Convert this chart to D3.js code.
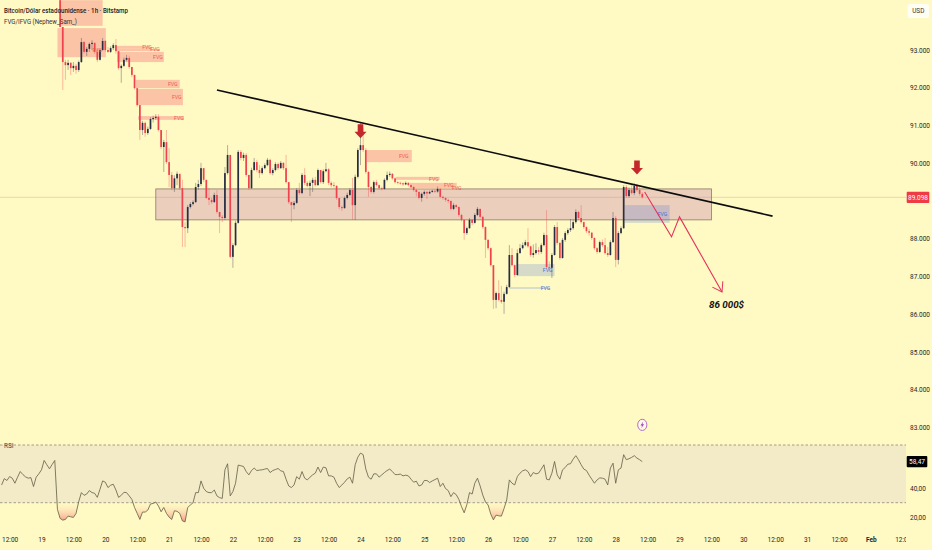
<!DOCTYPE html>
<html>

<head>
    <meta charset="utf-8">
    <title>BTC 1h</title>
    <style>
        html, body { margin: 0; padding: 0; background: #FFF9C4; }
        svg { display: block; }
        text { font-family: Roboto, "Liberation Sans", sans-serif; fill: #2e2e2a; }
        .axis text { font-size: 6.5px; fill: #26261f; }
        .fvg-label { font-size: 5.2px; }
    </style>
    <script src="https://d3js.org/d3.v7.min.js"></script>
</head>

<body>
    <svg width="932" height="550"></svg>

    <script>
        // hourly candles, first one is Jan 19 07:00, prices in thousands of USD
        const firstHour = 7;
        const firstOpen = 94.32;
        const closes = [93.61,92.68,92.60,92.66,92.52,92.58,92.47,92.68,93.21,92.95,93.03,93.16,93.19,92.95,92.74,93.00,93.24,93.00,92.95,93.05,93.13,92.97,92.52,92.58,92.74,92.79,92.55,92.34,91.99,91.54,90.88,91.07,90.80,90.91,91.17,91.20,91.23,90.88,90.43,90.56,90.03,89.69,89.34,89.60,89.72,89.34,88.31,88.28,88.84,88.92,88.97,89.37,89.45,89.87,89.56,89.08,89.03,88.97,89.16,88.71,88.58,88.55,89.74,90.22,87.52,87.83,88.42,90.30,90.14,90.22,89.69,89.34,89.82,90.03,89.82,89.74,89.87,89.95,90.09,89.74,89.82,89.98,89.87,90.01,89.87,89.50,88.97,88.89,88.95,89.29,89.21,89.69,89.48,89.40,89.48,89.56,89.42,89.82,89.50,89.79,89.84,89.48,89.42,89.40,89.08,88.84,88.81,89.08,89.16,89.29,88.89,89.64,90.35,90.48,90.35,89.77,89.37,89.24,89.50,89.42,89.34,89.32,89.56,89.69,89.72,89.60,89.50,89.48,89.47,89.44,89.48,89.42,89.37,89.29,89.24,89.08,89.19,89.24,89.20,89.24,89.27,89.25,89.32,89.11,89.08,89.03,89.00,88.79,88.89,88.84,88.63,88.50,88.15,88.28,88.50,88.42,88.63,88.79,88.58,88.31,87.97,87.75,87.30,86.38,86.56,86.38,86.33,86.54,86.72,87.57,87.30,87.04,87.62,87.75,87.83,87.91,87.80,87.57,87.62,87.70,87.65,87.83,88.10,87.25,87.23,87.57,88.31,87.89,87.49,87.97,88.15,88.23,88.28,88.44,88.71,88.55,88.44,88.31,88.20,88.16,88.02,87.75,87.65,87.91,87.83,87.62,87.57,87.91,88.55,87.44,88.15,88.28,89.37,89.13,89.29,89.21,89.40,89.29,89.19,89.098];
        const highs = [94.32,93.61,92.74,92.74,92.68,92.68,92.63,92.72,93.32,93.24,93.08,93.20,93.26,93.19,93.05,93.03,93.32,93.26,93.08,93.10,93.18,93.29,92.97,92.62,92.80,92.87,92.85,92.55,92.34,91.99,91.54,91.12,91.10,90.97,91.22,91.26,91.30,91.30,90.88,90.62,90.88,90.40,89.77,89.68,89.78,89.65,89.56,88.44,88.89,88.97,89.02,89.48,89.56,90.01,89.87,89.56,89.34,89.08,89.22,89.29,88.71,88.63,89.90,90.48,90.22,87.88,88.48,90.35,90.35,90.28,90.27,89.69,89.88,90.14,90.09,89.95,89.92,90.00,90.14,90.12,89.87,90.03,90.02,90.06,90.03,90.22,89.50,88.98,89.00,89.34,89.48,89.74,89.87,89.52,89.54,89.62,89.64,89.86,89.82,89.84,90.01,89.87,89.52,89.50,89.42,89.08,88.88,89.12,89.22,89.34,89.61,89.70,90.40,91.09,90.93,90.40,89.80,89.40,89.54,89.56,89.44,89.38,89.60,89.78,89.78,89.74,89.62,89.52,89.51,89.49,89.52,89.50,89.44,89.39,89.32,89.26,89.22,89.28,89.27,89.28,89.30,89.31,89.38,89.34,89.14,89.10,89.06,89.02,88.94,88.92,88.86,88.66,88.52,88.32,88.55,88.52,88.68,88.84,88.80,88.60,88.33,87.99,87.77,87.30,86.60,86.90,86.75,86.60,86.78,87.83,87.75,87.32,87.72,87.86,87.90,87.97,88.28,87.82,87.85,87.88,87.78,87.88,88.16,88.76,87.40,87.62,88.36,88.44,87.91,88.02,88.20,88.28,88.52,88.50,88.78,88.74,88.89,88.46,88.33,88.26,88.18,88.04,87.78,87.95,87.98,88.02,87.78,87.96,88.71,88.60,88.20,88.33,89.42,89.42,89.36,89.42,89.47,89.45,89.37,89.23];
        const lows = [93.61,91.94,92.21,92.47,92.34,92.42,92.37,92.42,92.66,92.90,92.84,92.95,93.00,92.90,92.68,92.72,92.98,92.95,92.92,92.92,93.00,92.90,92.47,92.13,92.55,92.70,92.50,92.28,91.95,91.50,90.62,90.75,90.70,90.75,90.88,91.08,91.15,90.84,90.38,89.77,89.98,89.37,89.29,89.24,89.42,89.29,87.78,87.78,88.15,88.80,88.88,88.95,89.30,89.40,89.50,89.05,88.89,88.92,88.95,88.66,88.15,88.44,88.50,89.70,87.48,87.23,87.80,88.40,90.08,90.06,89.64,89.29,89.32,89.80,89.76,89.61,89.70,89.84,89.92,89.70,89.68,89.78,89.82,89.85,89.82,89.46,88.92,88.44,88.78,88.92,89.16,89.18,89.42,89.36,89.13,89.24,89.38,89.40,89.46,89.45,89.76,89.42,89.36,89.35,89.03,88.78,88.74,88.80,89.04,89.13,88.50,88.50,89.60,89.95,90.30,89.72,89.11,89.20,89.20,89.38,89.30,89.28,89.30,89.52,89.64,89.56,89.46,89.44,89.43,89.40,89.42,89.38,89.33,89.25,89.12,89.04,88.98,89.14,89.05,89.18,89.22,89.21,89.22,89.07,89.03,88.98,88.94,88.75,88.76,88.80,88.58,88.46,87.97,88.10,88.26,88.36,88.40,88.60,88.54,88.26,87.49,87.70,87.26,86.14,86.16,86.34,86.28,86.01,86.52,86.70,87.26,86.98,87.02,87.60,87.72,87.80,87.76,87.52,87.50,87.58,87.58,87.60,87.80,87.20,87.16,86.96,87.55,87.84,87.44,87.47,87.92,88.10,88.18,88.24,88.40,88.50,88.40,88.26,88.15,88.08,87.97,87.70,87.60,87.62,87.78,87.58,87.52,87.55,87.89,87.25,87.32,88.12,88.26,89.08,89.08,89.17,89.15,89.24,89.14,89.06];

        // RSI reading per hour, last value lines up with the last candle
        const rsiValues = [42.3,46.7,45.4,48.1,47,43.5,47.7,51.6,49.5,47.9,47,47.4,41.2,47.7,50,52.8,59.3,56.3,53.5,56.5,59.3,25.3,19.1,17.9,18.4,20.7,20.2,19.8,22.6,30.7,37,35.1,36,38.4,37,36.5,33.7,39.3,45.1,44.2,40.5,42.1,42.8,38.8,33.7,35.1,37.2,37,34.7,32.3,26.7,22.6,18.4,23.5,23.5,24.9,29.1,29.5,30.5,27.7,23.7,26.7,22.6,20,18.4,24.4,24,22.6,17.4,16.7,26.7,28.4,30,37,37,45.1,40,37.7,37,37,38.8,34.7,33.5,33,52.8,57,34.7,37.7,43.5,56.1,55.6,55.1,51.6,49.3,52.3,54,52.3,52.6,52.8,53.3,53.7,50.9,52.3,53,53.7,52.1,51.6,46.3,41.6,40.5,42.3,48.1,46.3,51.6,47,45.8,47.7,49.3,50.5,54.7,50.9,54.7,54.2,48.6,
            48.6,47.7,43.5,40.5,42.3,44.2,46.5,47.7,43.5,56.3,61.6,64.4,63.3,53.3,47.7,46.3,50,50,47.7,49.3,50.9,52.3,53.3,51.6,49.5,49.5,49.8,48.6,49.1,48.6,46.3,44.2,44.9,41.6,42.3,45.4,45.4,44,45.1,46,47,41.2,43.5,39.8,38.4,34.2,37,35.6,32.3,27.2,23,28.6,37,36,43.5,47,41.6,35.3,30.5,28.4,22.1,18.1,21.4,20.9,20.7,26,31.9,45.8,43.5,42.3,48.1,50.5,52.1,52.8,51.6,48.1,50.9,50,50.5,53.3,56.3,46.3,45.8,50.5,58.6,49.3,46.3,52.8,54.4,56.7,57,60.2,62.6,59.8,56.3,53.3,52.3,49.1,46.3,43.5,45.8,47.2,47,46.3,42.3,54,57.4,43.5,52.8,54,63.3,59.8,60.5,61.4,62.6,60.9,59.8,58.47];

        const priceTicks = [93, 92, 91, 90, 88, 87, 86, 85, 84, 83];
        const rsiTicks = [40, 20];
        const timeLabels = ["12:00","19","12:00","20","12:00","21","12:00","22","12:00","23","12:00","24","12:00","25","12:00","26","12:00","27","12:00","28","12:00","29","12:00","30","12:00","31","12:00","Feb","12:00"];

        // fvg zones: hour from, hour to, top price, bottom price, label hour, label price
        const redZones = [
            [7, 23, 94.32, 93.64],
            [6, 24.2, 93.58, 92.81, 21, 93.0],
            [28, 40.8, 93.11, 93.03, 39.7, 93.09],
            [28, 44.5, 93.03, 92.97, 42.7, 93.03],
            [28.4, 46, 92.95, 92.68, 43.8, 92.81],
            [35.5, 52, 92.21, 91.99, 49.4, 92.10],
            [35.9, 53.2, 91.97, 91.54, 50.9, 91.75],
            [36.3, 53.6, 91.25, 91.15, 51.7, 91.20],
            [122.4, 139.3, 90.35, 90.03, 136.3, 90.19],
            [133.3, 149.8, 89.64, 89.56, 147.6, 89.59],
            [138.5, 156.2, 89.48, 89.37, 153.2, 89.42],
            [138.5, 156.6, 89.37, 89.33, 156.2, 89.35]
        ];
        const blueZones = [
            [178.8, 193, 87.33, 87.01, 190.4, 87.18],
            [176, 191, 86.72, 86.67, 189.6, 86.70],
            [219.4, 236.3, 88.89, 88.42, 233.6, 88.65]
        ];
        const supplyBox = [43, 252, 89.32, 88.50];
        const trendLine = [[66, 91.94], [275, 88.60]];
        const projection = [[226.9, 89.24], [237, 88.05], [240, 88.58], [256, 86.59]];
        const dropArrows = [[120, 90.66], [224, 89.70]];

        const svg = d3.select("svg");
        const W = 906;

        const x = d3.scaleUtc()
            .domain([Date.UTC(2025, 0, 19), Date.UTC(2025, 0, 20)])
            .range([41.5, 105.3]);
        const hourX = h => x(Date.UTC(2025, 0, 19) + h * 3600e3);
        const y = d3.scaleLinear().domain([83, 93]).range([427.5, 50]);
        const yRsi = d3.scaleLinear().domain([30, 70]).range([502.7, 445]);

        const defs = svg.append("defs");
        defs.append("clipPath").attr("id", "plot")
            .append("rect").attr("width", W).attr("height", 550);
        const oversold = defs.append("linearGradient").attr("id", "oversold")
            .attr("gradientUnits", "userSpaceOnUse")
            .attr("x1", 0).attr("x2", 0).attr("y1", yRsi(30)).attr("y2", yRsi(17));
        oversold.append("stop").attr("offset", 0).attr("stop-color", "#FFF9C4").attr("stop-opacity", 0.2);
        oversold.append("stop").attr("offset", 1).attr("stop-color", "#F59A86");
        defs.append("clipPath").attr("id", "below30")
            .append("rect").attr("x", 0).attr("y", yRsi(30)).attr("width", W).attr("height", 60);
        defs.append("marker").attr("id", "head")
            .attr("markerUnits", "userSpaceOnUse")
            .attr("viewBox", "-12 -7 14 14")
            .attr("markerWidth", 14).attr("markerHeight", 14)
            .attr("orient", "auto")
            .append("path").attr("d", "M-9,-6 L0,0 L-9,6")
            .attr("fill", "none").attr("stroke", "#E5335C").attr("stroke-width", 1);

        const plot = svg.append("g").attr("clip-path", "url(#plot)");

        // last price line
        const lastPrice = closes[closes.length - 1];
        plot.append("line")
            .attr("x1", 0).attr("x2", W)
            .attr("y1", y(lastPrice)).attr("y2", y(lastPrice))
            .attr("stroke", "#EBCB9C").attr("stroke-width", 0.8);

        // supply box
        plot.append("rect")
            .attr("x", hourX(supplyBox[0])).attr("y", y(supplyBox[2]))
            .attr("width", hourX(supplyBox[1]) - hourX(supplyBox[0]))
            .attr("height", y(supplyBox[3]) - y(supplyBox[2]))
            .attr("fill", "rgb(198,129,176)").attr("fill-opacity", 0.35)
            .attr("stroke", "#8b7b66").attr("stroke-width", 0.8);

        function drawZones(zones, fill) {
            const g = plot.append("g");
            g.selectAll("rect").data(zones).join("rect")
                .attr("x", d => hourX(d[0]))
                .attr("y", d => y(d[2]))
                .attr("width", d => hourX(d[1]) - hourX(d[0]))
                .attr("height", d => y(d[3]) - y(d[2]))
                .attr("fill", fill);
        }
        drawZones(redZones, "#FCC4A6");
        drawZones(blueZones, "rgba(70,110,215,0.22)");

        // candles
        const candles = closes.map((c, i) => ({
            h: firstHour + i,
            o: i === 0 ? firstOpen : closes[i - 1],
            c: c,
            hi: highs[i],
            lo: lows[i]
        }));
        const color = d => d.c >= d.o ? "#272d42" : "#EF424D";
        const candleG = plot.append("g");
        candleG.selectAll("line").data(candles).join("line")
            .attr("x1", d => hourX(d.h)).attr("x2", d => hourX(d.h))
            .attr("y1", d => y(d.hi)).attr("y2", d => y(d.lo))
            .attr("stroke", color).attr("stroke-width", 0.8).attr("stroke-opacity", 0.45);
        candleG.selectAll("rect").data(candles).join("rect")
            .attr("x", d => hourX(d.h) - 0.85)
            .attr("width", 1.7)
            .attr("y", d => y(Math.max(d.o, d.c)))
            .attr("height", d => Math.max(0.8, Math.abs(y(d.o) - y(d.c))))
            .attr("fill", color);

        // fvg labels go over the candles
        const labelRows = (zones, col) => plot.append("g").selectAll("text")
            .data(zones.filter(d => d.length > 4)).join("text")
            .attr("class", "fvg-label")
            .attr("x", d => hourX(d[4])).attr("y", d => y(d[5]) + 1.9)
            .attr("text-anchor", "middle")
            .style("fill", col)
            .text("FVG");
        labelRows(redZones, "#E8604F");
        labelRows(blueZones, "#4a6fd8");

        // trend line
        const priceLine = d3.line().x(d => hourX(d[0])).y(d => y(d[1]));
        plot.append("path").attr("d", priceLine(trendLine))
            .attr("fill", "none").attr("stroke", "#0c0c0c").attr("stroke-width", 1.6);

        // projected move
        plot.append("path").attr("d", priceLine(projection))
            .attr("fill", "none").attr("stroke", "#E5335C").attr("stroke-width", 1.1)
            .attr("marker-end", "url(#head)");

        // red arrows above the touches
        plot.selectAll(".drop").data(dropArrows).join("path")
            .attr("class", "drop")
            .attr("transform", d => `translate(${hourX(d[0])},${y(d[1])})`)
            .attr("d", "M0,0 L-6,-6.5 L-2.8,-6.5 L-2.8,-14 L2.8,-14 L2.8,-6.5 L6,-6.5 Z")
            .attr("fill", "#C4282C");

        svg.append("text").attr("x", 726.5).attr("y", 307.5)
            .attr("text-anchor", "middle")
            .style("font-size", "9.8px").style("font-weight", 700).style("font-style", "italic")
            .style("fill", "#111")
            .text("86 000$");

        // bolt marker
        const bolt = svg.append("g").attr("transform", `translate(${hourX(226)},${y(83.07)})`);
        bolt.append("ellipse").attr("rx", 4.6).attr("ry", 5.6)
            .attr("fill", "#FFF9E6").attr("stroke", "#B56BD2").attr("stroke-width", 1);
        bolt.append("path").attr("d", "M1,-3.4 L-1.8,0.6 L-0.1,0.6 L-1,3.4 L1.8,-0.6 L0.1,-0.6 Z")
            .attr("fill", "#9A3FC0");

        // rsi pane
        plot.append("rect")
            .attr("x", 0).attr("width", W)
            .attr("y", yRsi(70)).attr("height", yRsi(30) - yRsi(70))
            .attr("fill", "#F3EBC8");
        plot.selectAll(".band").data([70, 30]).join("line")
            .attr("class", "band")
            .attr("x1", 0).attr("x2", W)
            .attr("y1", d => yRsi(d)).attr("y2", d => yRsi(d))
            .attr("stroke", "#8c8876").attr("stroke-width", 0.8).attr("stroke-dasharray", "2.5,2");

        const rsiStart = firstHour + closes.length - rsiValues.length;
        plot.append("path")
            .attr("clip-path", "url(#below30)")
            .attr("d", d3.area()
                .x((d, i) => hourX(rsiStart + i))
                .y0(yRsi(30))
                .y1(d => yRsi(d))(rsiValues))
            .attr("fill", "url(#oversold)");
        plot.append("path")
            .attr("d", d3.line()
                .x((d, i) => hourX(rsiStart + i))
                .y(d => yRsi(d))(rsiValues))
            .attr("fill", "none").attr("stroke", "#6a654c").attr("stroke-width", 0.85);

        svg.append("text").attr("x", 4).attr("y", 447.5)
            .style("font-size", "6.4px").style("fill", "#444").text("RSI");

        // axes
        const priceAxis = svg.append("g").attr("class", "axis")
            .attr("transform", "translate(904,0)")
            .call(d3.axisRight(y).tickValues(priceTicks).tickSize(0).tickPadding(6).tickFormat(d3.format(".3f")));
        priceAxis.select(".domain").remove();

        const rsiAxis = svg.append("g").attr("class", "axis")
            .attr("transform", "translate(904,0)")
            .call(d3.axisRight(yRsi).tickValues(rsiTicks).tickSize(0).tickPadding(6)
                .tickFormat(d => d3.format(".2f")(d).replace(".", ",")));
        rsiAxis.select(".domain").remove();

        const timeTicks = timeLabels.map((d, i) => new Date(Date.UTC(2025, 0, 19) + (i * 12 - 12) * 3600e3));
        const timeAxis = svg.append("g").attr("class", "axis")
            .attr("clip-path", "url(#plot)")
            .attr("transform", "translate(0,534)")
            .call(d3.axisBottom(x).tickValues(timeTicks).tickSize(0).tickPadding(3)
                .tickFormat((d, i) => timeLabels[i]));
        timeAxis.select(".domain").remove();
        timeAxis.selectAll("text").filter(d => +d === +timeTicks[27]).style("font-weight", 700);

        // price tags
        function tag(yPos, label, bg, w) {
            svg.append("rect").attr("x", 906.7).attr("y", yPos - 5.6)
                .attr("width", w).attr("height", 11.2)
                .attr("rx", 1).attr("fill", bg);
            svg.append("text").attr("x", 906.7 + w / 2).attr("y", yPos + 2.3)
                .attr("text-anchor", "middle")
                .style("font-size", "6.5px").style("fill", "#fff").text(label);
        }
        tag(y(lastPrice), d3.format(".3f")(lastPrice), "#EF3B45", 22.6);
        tag(yRsi(rsiValues[rsiValues.length - 1]), d3.format(".2f")(rsiValues[rsiValues.length - 1]).replace(".", ","), "#000", 20.6);

        // currency button and legend
        svg.append("rect").attr("x", 907.7).attr("y", 4).attr("width", 21.3).attr("height", 14)
            .attr("rx", 2).attr("fill", "#FFFEF4");
        svg.append("text").attr("x", 918.3).attr("y", 13.3).attr("text-anchor", "middle")
            .style("font-size", "6.4px").style("fill", "#333").text("USD");

        svg.append("text").attr("x", 4).attr("y", 13)
            .attr("textLength", 124).attr("lengthAdjust", "spacingAndGlyphs")
            .style("font-size", "7.2px").style("font-weight", 500).style("fill", "#222")
            .text("Bitcoin/Dólar estadounidense · 1h · Bitstamp");
        svg.append("text").attr("x", 4).attr("y", 24)
            .attr("textLength", 73).attr("lengthAdjust", "spacingAndGlyphs")
            .style("font-size", "7.2px").style("fill", "#333")
            .text("FVG/IFVG (Nephew_Sam_)");
    </script>
</body>

</html>
